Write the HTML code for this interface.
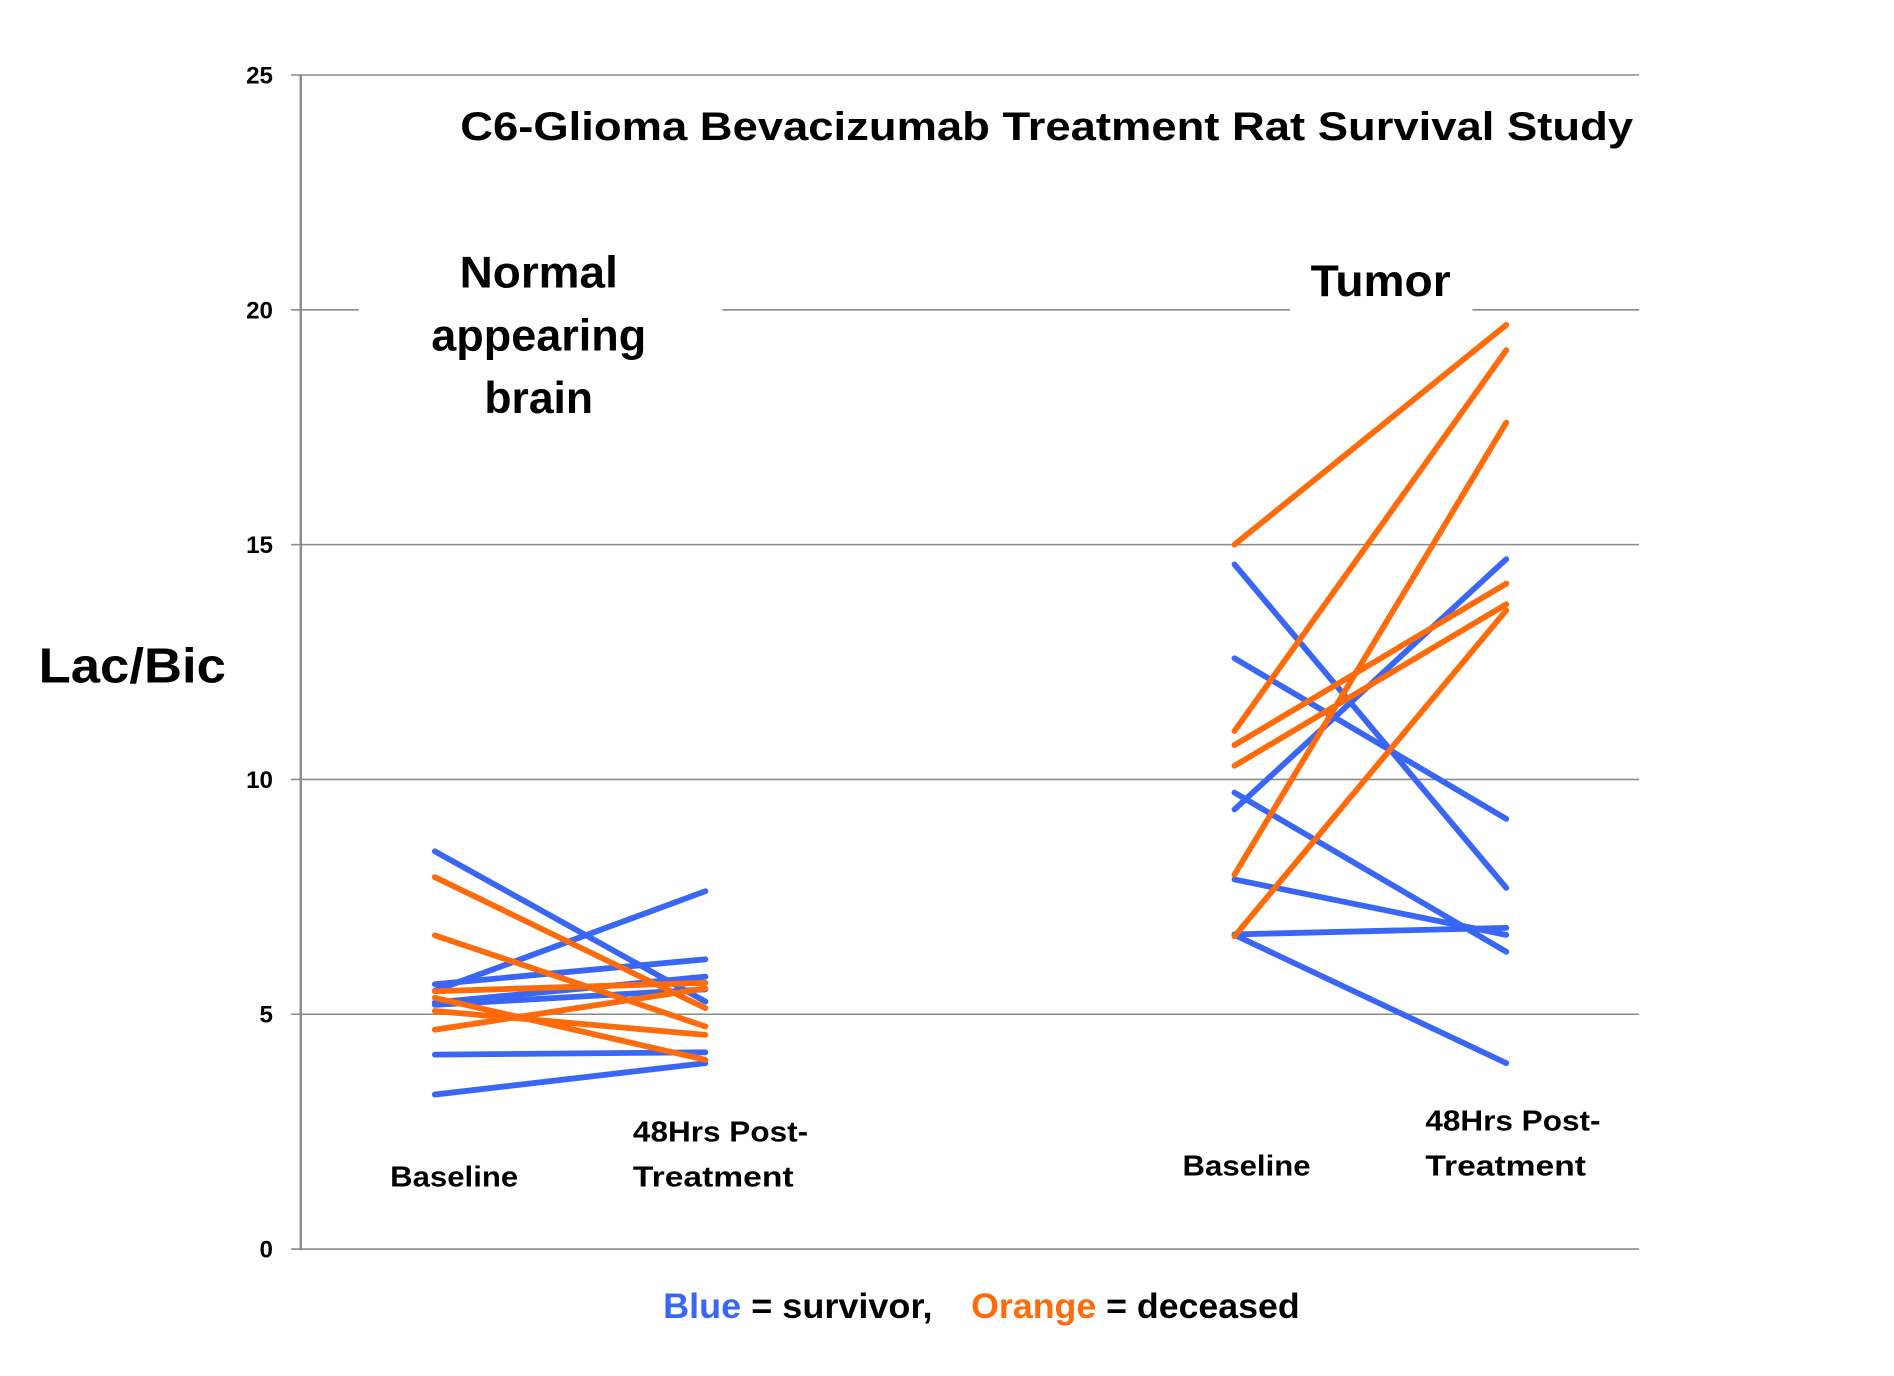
<!DOCTYPE html>
<html><head><meta charset="utf-8"><style>
html,body{margin:0;padding:0;background:#fff;}
svg{display:block;}
text{font-family:"Liberation Sans",sans-serif;font-weight:bold;fill:#000;}
</style></head><body>
<svg id="chart" width="1894" height="1376" viewBox="0 0 1568 1139" xmlns="http://www.w3.org/2000/svg">
<g id="grid"></g>
<g id="axis"></g>
<g id="marks"></g>
<text x="381" y="116" font-size="33" textLength="971" lengthAdjust="spacingAndGlyphs">C6-Glioma Bevacizumab Treatment Rat Survival Study</text>
<text x="32" y="565" font-size="41" textLength="155" lengthAdjust="spacingAndGlyphs">Lac/Bic</text>
<g font-size="37" text-anchor="middle">
<text x="446" y="238" textLength="131" lengthAdjust="spacingAndGlyphs">Normal</text>
<text x="446" y="290" textLength="178" lengthAdjust="spacingAndGlyphs">appearing</text>
<text x="446" y="342" textLength="90" lengthAdjust="spacingAndGlyphs">brain</text>
</g>
<text x="1143" y="245" font-size="37" text-anchor="middle" textLength="116" lengthAdjust="spacingAndGlyphs">Tumor</text>
<g font-size="24">
<text x="323" y="982" textLength="106" lengthAdjust="spacingAndGlyphs">Baseline</text>
<text x="524" y="945" textLength="145" lengthAdjust="spacingAndGlyphs">48Hrs Post-</text>
<text x="524" y="982" textLength="133" lengthAdjust="spacingAndGlyphs">Treatment</text>
<text x="979" y="973" textLength="106" lengthAdjust="spacingAndGlyphs">Baseline</text>
<text x="1180" y="936" textLength="145" lengthAdjust="spacingAndGlyphs">48Hrs Post-</text>
<text x="1180" y="973" textLength="133" lengthAdjust="spacingAndGlyphs">Treatment</text>
</g>
<g font-size="29">
<text x="549" y="1091" textLength="223" lengthAdjust="spacingAndGlyphs"><tspan style="fill:#3A66F5">Blue</tspan> = survivor,</text>
<text x="804" y="1091" textLength="272" lengthAdjust="spacingAndGlyphs"><tspan style="fill:#FF6A0A">Orange</tspan> = deceased</text>
</g>
</svg>
<script>
const yTicks = [0, 5, 10, 15, 20, 25];
const groupNames = ["normal", "tumor"];
const normalBlueBase = [8.47, 5.5, 5.64, 5.25, 5.2, 4.14, 3.29];
const normalBluePost = [5.27, 7.62, 6.17, 5.8, 5.53, 4.19, 3.96];
const normalOrangeBase = [7.92, 6.68, 5.49, 5.07, 4.67, 5.35];
const normalOrangePost = [5.13, 4.74, 5.67, 4.56, 5.55, 4.03];
const tumorBlueBase = [14.58, 12.58, 9.72, 9.36, 7.87, 6.7, 6.69];
const tumorBluePost = [7.69, 9.16, 6.33, 14.69, 6.69, 6.84, 3.96];
const tumorOrangeBase = [15.0, 11.03, 10.73, 10.29, 7.97, 6.66];
const tumorOrangePost = [19.68, 19.14, 14.17, 13.73, 17.6, 13.6];

const NS = "http://www.w3.org/2000/svg";
const y = v => 1034 - v * 38.88;
const xPos = {normal: [360, 584], tumor: [1022, 1247]};
const grid = document.getElementById('grid');
const axis = document.getElementById('axis');
const marks = document.getElementById('marks');

function line(parent, x1, y1, x2, y2, stroke, w, cap) {
  const l = document.createElementNS(NS, 'line');
  l.setAttribute('x1', x1); l.setAttribute('y1', y1);
  l.setAttribute('x2', x2); l.setAttribute('y2', y2);
  l.setAttribute('stroke', stroke); l.setAttribute('stroke-width', w);
  if (cap) l.setAttribute('stroke-linecap', cap);
  parent.appendChild(l);
  return l;
}
yTicks.forEach(t => {
  const yy = y(t);
  if (t === 20) {
    [[241, 297], [598, 1068], [1219, 1357]].forEach(s => {
      const g = line(grid, s[0], yy, s[1], yy, '#8a8a8a', 1.3);
      
      
    });
  } else {
    const g = line(grid, 241, yy, 1357, yy, '#8a8a8a', 1.3);
    
    
  }
  const tx = document.createElementNS(NS, 'text');
  tx.setAttribute('x', 226); tx.setAttribute('y', yy + 7);
  tx.setAttribute('text-anchor', 'end'); tx.setAttribute('font-size', '20');
  tx.textContent = t;
  
  
  axis.appendChild(tx);
});
const ax = line(axis, 249, y(25), 249, y(0) + 1, '#8a8a8a', 2);



function series(group, base, post, color, name) {
  const xs = xPos[group];
  base.forEach((b, i) => {
    const l = line(marks, xs[0], y(b), xs[1], y(post[i]), color, 4.8, 'round');
    
    
  });
}
series('normal', normalBlueBase, normalBluePost, '#3A66F5', 'normal-survivor');
series('normal', normalOrangeBase, normalOrangePost, '#FF6A0A', 'normal-deceased');
series('tumor', tumorBlueBase, tumorBluePost, '#3A66F5', 'tumor-survivor');
series('tumor', tumorOrangeBase, tumorOrangePost, '#FF6A0A', 'tumor-deceased');
</script>
</body></html>
